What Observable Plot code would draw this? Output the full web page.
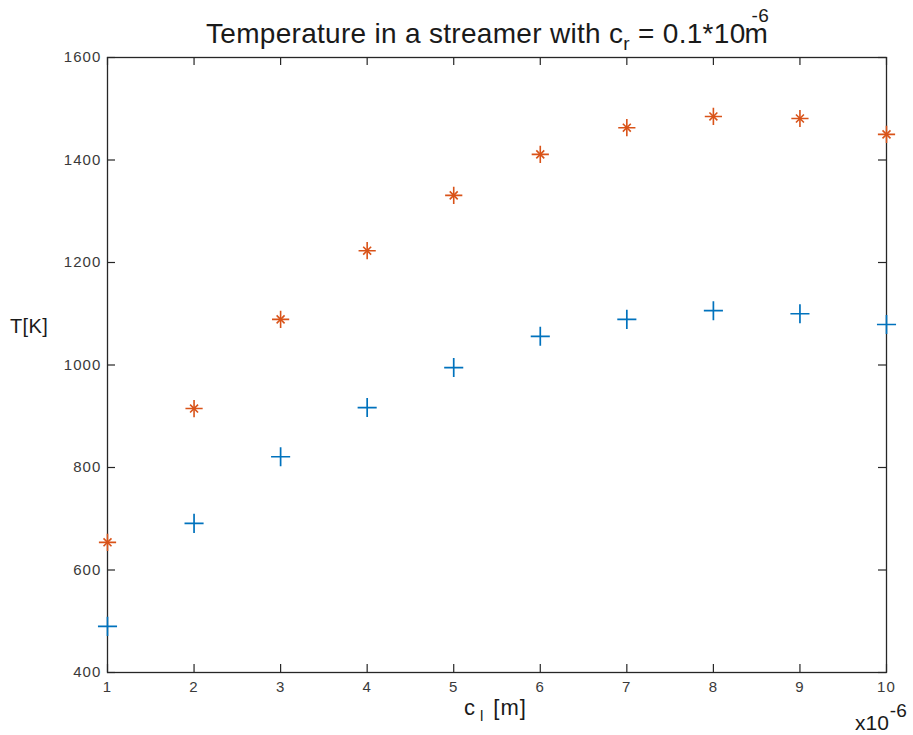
<!DOCTYPE html>
<html>
<head>
<meta charset="utf-8">
<script src="https://cdn.jsdelivr.net/npm/d3@7"></script>
<script src="https://cdn.jsdelivr.net/npm/@observablehq/plot@0.6"></script>
<style>
  html, body { margin: 0; padding: 0; background: #fff; }
  svg text { font-family: "Liberation Sans", Arial, Helvetica, sans-serif; }
</style>
</head>
<body>
<div id="chart"></div>
<script>
// ---- data ----
const clValues = [1, 2, 3, 4, 5, 6, 7, 8, 9, 10];           // c_l in units of 1e-6 m
const tempRed  = [654, 915, 1089, 1223, 1331, 1411, 1463, 1485, 1481, 1450];
const tempBlue = [490, 691, 821, 917, 995, 1056, 1089, 1106, 1100, 1079];
const xTicks = [1, 2, 3, 4, 5, 6, 7, 8, 9, 10];
const yTicks = [400, 600, 800, 1000, 1200, 1400, 1600];

const W = 913, H = 735;
const mL = 107, mR = 27, mT = 57, mB = 63;
const xDomain = [1, 10], yDomain = [400, 1600];
const tickPx = 8;
const dyTick = tickPx * (yDomain[1] - yDomain[0]) / (H - mT - mB);
const dxTick = tickPx * (xDomain[1] - xDomain[0]) / (W - mL - mR);

const redData = clValues.map((x, i) => ({x, t: tempRed[i]}));
const blueData = clValues.map((x, i) => ({x, t: tempBlue[i]}));

const axisColor = "#262626";
const blue = "#0072BD", red = "#D95319";

const plot = Plot.plot({
  width: W, height: H,
  marginLeft: mL, marginRight: mR, marginTop: mT, marginBottom: mB,
  x: {domain: xDomain},
  y: {domain: yDomain},
  style: {fontFamily: "Liberation Sans, Arial, sans-serif", fontSize: "15px", color: axisColor, background: "white"},
  marks: [
    Plot.axisX({ticks: xTicks, tickSize: 0, tickPadding: 9, label: null, tickFormat: d3.format("d"), fill: "#3a3a3a", fontSize: 15}),
    Plot.axisY({ticks: yTicks, tickSize: 0, tickPadding: 6, label: null, tickFormat: d3.format("d"), fill: "#3a3a3a", fontSize: 15}),
    // inward ticks on all four sides
    Plot.ruleX(xTicks, {x: d => d, y1: yDomain[0], y2: yDomain[0] + dyTick, stroke: axisColor, strokeWidth: 1.2}),
    Plot.ruleX(xTicks, {x: d => d, y1: yDomain[1], y2: yDomain[1] - dyTick, stroke: axisColor, strokeWidth: 1.2}),
    Plot.ruleY(yTicks, {y: d => d, x1: xDomain[0], x2: xDomain[0] + dxTick, stroke: axisColor, strokeWidth: 1.2}),
    Plot.ruleY(yTicks, {y: d => d, x1: xDomain[1], x2: xDomain[1] - dxTick, stroke: axisColor, strokeWidth: 1.2}),
    Plot.frame({stroke: axisColor, strokeWidth: 1.3}),
    // blue plus markers
    Plot.dot(blueData, {x: "x", y: "t", symbol: "plus", r: 6.2, stroke: blue, strokeWidth: 1.7}),
    // red asterisk markers (8-armed: plus + times)
    Plot.dot(redData, {x: "x", y: "t", symbol: "plus", r: 5.6, stroke: red, strokeWidth: 1.6}),
    Plot.dot(redData, {x: "x", y: "t", symbol: "times", r: 3.7, stroke: red, strokeWidth: 1.6})
  ]
});

document.getElementById("chart").appendChild(plot);

const svg = d3.select(plot);
// tick label letter spacing to mimic the wider reference rendering
svg.selectAll("g[aria-label='x-axis tick label'] text, g[aria-label='y-axis tick label'] text")
  .attr("letter-spacing", 1.1);

const txtColor = "#1a1a1a";

// Title
const title = svg.append("text")
  .attr("x", 206).attr("y", 43).attr("text-anchor", "start")
  .attr("font-size", 28).attr("letter-spacing", 0.3).attr("fill", txtColor);
title.append("tspan").text("Temperature in a streamer with c");
title.append("tspan").attr("font-size", 19).attr("dy", 7).text("r");
title.append("tspan").attr("dy", -7).text(" = 0.1*10");
const tn = title.node();
const endTen = tn.getEndPositionOfChar(tn.getNumberOfChars() - 1).x;
title.append("tspan").attr("font-size", 19).attr("x", endTen + 6).attr("dy", -21).text("-6");
title.append("tspan").attr("x", endTen - 1).attr("dy", 21).text("m");

// Y label
svg.append("text").attr("x", 10).attr("y", 333).attr("text-anchor", "start")
  .attr("font-size", 20).attr("letter-spacing", 0.4).attr("fill", txtColor).text("T[K]");

// X label
const xl = svg.append("text").attr("x", 464).attr("y", 715).attr("text-anchor", "start")
  .attr("font-size", 22).attr("fill", txtColor);
xl.append("tspan").text("c");
xl.append("tspan").attr("font-size", 15).attr("dx", 5).attr("dy", 6).text("l");
xl.append("tspan").attr("dy", -6).attr("dx", 10).attr("letter-spacing", 1).text("[m]");

// exponent label
const ex = svg.append("text").attr("x", 855).attr("y", 730).attr("text-anchor", "start")
  .attr("font-size", 21).attr("fill", txtColor);
ex.append("tspan").text("x10");
ex.append("tspan").attr("font-size", 19).attr("dx", 1).attr("dy", -13).text("-6");
</script>
</body>
</html>
